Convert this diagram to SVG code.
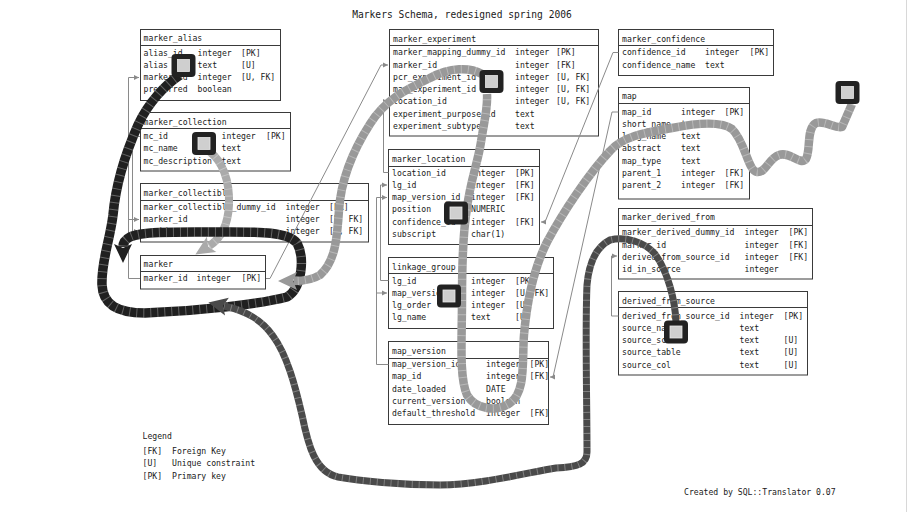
<svg xmlns="http://www.w3.org/2000/svg" width="922" height="512" viewBox="0 0 922 512">
<style>
text{font-family:"DejaVu Sans Mono","Liberation Mono",monospace;font-size:8.15px;fill:#1a1a1a}
.title{font-size:9.6px}
.box{fill:#fff;stroke:#3a3a3a;stroke-width:1}
.sep{stroke:#3a3a3a;stroke-width:1}
.conn{fill:none;stroke:#8a8a8a;stroke-width:1}
.s{fill:none;stroke-linecap:butt;stroke-linejoin:round}
.tick{fill:none;stroke:#ffffff;stroke-opacity:0.3;stroke-dasharray:1 6;stroke-linecap:butt}
.sqo{fill:#222}
.sqi{fill:#cfcfcf;stroke:#e8e8e8;stroke-width:0.8}
</style>
<defs>
<marker id="fk" markerUnits="userSpaceOnUse" markerWidth="8" markerHeight="8" refX="4" refY="0" viewBox="-4 -4 8 8" orient="auto" overflow="visible">
<path d="M-1,-2.5 L4,0 L-1,2.5 Z" fill="#8a8a8a"/>
</marker>
<marker id="aBlack" markerUnits="userSpaceOnUse" markerWidth="24" markerHeight="24" refX="0" refY="0" viewBox="-6 -12 24 24" orient="auto" overflow="visible">
<path d="M16,0 L-3,-9 L1,0 L-3,9 Z" fill="#202020"/>
</marker>
<marker id="aLight" markerUnits="userSpaceOnUse" markerWidth="24" markerHeight="24" refX="0" refY="0" viewBox="-6 -12 24 24" orient="auto" overflow="visible">
<path d="M16,0 L-3,-9 L1,0 L-3,9 Z" fill="#aaaaaa"/>
</marker>
<marker id="aGray" markerUnits="userSpaceOnUse" markerWidth="24" markerHeight="24" refX="0" refY="0" viewBox="-6 -12 24 24" orient="auto" overflow="visible">
<path d="M16,0 L-3,-9 L1,0 L-3,9 Z" fill="#999999"/>
</marker>
<marker id="aDark" markerUnits="userSpaceOnUse" markerWidth="24" markerHeight="24" refX="0" refY="0" viewBox="-6 -12 24 24" orient="auto" overflow="visible">
<path d="M16,0 L-3,-9 L1,0 L-3,9 Z" fill="#4a4a4a"/>
</marker>
</defs>
<rect x="0" y="0" width="922" height="512" fill="#fff"/>
<line x1="906.5" y1="0" x2="906.5" y2="512" stroke="#d8d8d8" stroke-width="1"/>
<text class="title" x="462" y="17.5" text-anchor="middle">Markers Schema, redesigned spring 2006</text>

<g id="marker_alias">
<rect class="box" x="140.5" y="29.5" width="140" height="71"/>
<line class="sep" x1="140.5" y1="45.5" x2="280.5" y2="45.5"/>
<text x="143.5" y="41.3">marker_alias</text>
<text x="143.5" y="55.7">alias_id</text><text x="197.5" y="55.7">integer</text><text x="241" y="55.7">[PK]</text>
<text x="143.5" y="67.95">alias</text><text x="197.5" y="67.95">text</text><text x="241" y="67.95">[U]</text>
<text x="143.5" y="80.2">marker_id</text><text x="197.5" y="80.2">integer</text><text x="241" y="80.2">[U, FK]</text>
<text x="143.5" y="92.45">preferred</text><text x="197.5" y="92.45">boolean</text>
</g>

<g id="marker_collection">
<rect class="box" x="140.5" y="112.5" width="150" height="58.5"/>
<line class="sep" x1="140.5" y1="128.5" x2="290.5" y2="128.5"/>
<text x="143.5" y="124.7">marker_collection</text>
<text x="143.5" y="139">mc_id</text><text x="221.5" y="139">integer</text><text x="266" y="139">[PK]</text>
<text x="143.5" y="151.25">mc_name</text><text x="221.5" y="151.25">text</text>
<text x="143.5" y="163.5">mc_description</text><text x="221.5" y="163.5">text</text>
</g>

<g id="marker_collectible">
<rect class="box" x="140.5" y="183.5" width="228" height="58.5"/>
<line class="sep" x1="140.5" y1="200.5" x2="368.5" y2="200.5"/>
<text x="143.5" y="196.3">marker_collectible</text>
<text x="143.5" y="209.7">marker_collectible_dummy_id</text><text x="285.5" y="209.7">integer</text><text x="329" y="209.7">[PK]</text>
<text x="143.5" y="221.95">marker_id</text><text x="285.5" y="221.95">integer</text><text x="329" y="221.95">[U, FK]</text>
<text x="143.5" y="234.2">mc_id</text><text x="285.5" y="234.2">integer</text><text x="329" y="234.2">[U, FK]</text>
</g>

<g id="marker">
<rect class="box" x="140.5" y="255.5" width="125" height="33.5"/>
<line class="sep" x1="140.5" y1="271.5" x2="265.5" y2="271.5"/>
<text x="143.5" y="267.3">marker</text>
<text x="143.5" y="281.3">marker_id</text><text x="196.5" y="281.3">integer</text><text x="241.5" y="281.3">[PK]</text>
</g>

<g id="marker_experiment">
<rect class="box" x="389.5" y="29.5" width="209" height="106.5"/>
<line class="sep" x1="389.5" y1="45.5" x2="598.5" y2="45.5"/>
<text x="393" y="42">marker_experiment</text>
<text x="393" y="55.3">marker_mapping_dummy_id</text><text x="515" y="55.3">integer</text><text x="556" y="55.3">[PK]</text>
<text x="393" y="67.55">marker_id</text><text x="515" y="67.55">integer</text><text x="556" y="67.55">[FK]</text>
<text x="393" y="79.8">pcr_experiment_id</text><text x="515" y="79.8">integer</text><text x="556" y="79.8">[U, FK]</text>
<text x="393" y="92.05">map_experiment_id</text><text x="515" y="92.05">integer</text><text x="556" y="92.05">[U, FK]</text>
<text x="393" y="104.3">location_id</text><text x="515" y="104.3">integer</text><text x="556" y="104.3">[U, FK]</text>
<text x="393" y="116.55">experiment_purpose_id</text><text x="515" y="116.55">text</text>
<text x="393" y="128.8">experiment_subtype</text><text x="515" y="128.8">text</text>
</g>

<g id="marker_location">
<rect class="box" x="388.5" y="149.5" width="151" height="95"/>
<line class="sep" x1="388.5" y1="166.5" x2="539.5" y2="166.5"/>
<text x="392" y="162">marker_location</text>
<text x="392" y="175.7">location_id</text><text x="471" y="175.7">integer</text><text x="515" y="175.7">[PK]</text>
<text x="392" y="187.95">lg_id</text><text x="471" y="187.95">integer</text><text x="515" y="187.95">[FK]</text>
<text x="392" y="200.2">map_version_id</text><text x="471" y="200.2">integer</text><text x="515" y="200.2">[FK]</text>
<text x="392" y="212.45">position</text><text x="471" y="212.45">NUMERIC</text>
<text x="392" y="224.7">confidence_id</text><text x="471" y="224.7">integer</text><text x="515" y="224.7">[FK]</text>
<text x="392" y="236.95">subscript</text><text x="471" y="236.95">char(1)</text>
</g>

<g id="linkage_group">
<rect class="box" x="388.5" y="257.5" width="165" height="71"/>
<line class="sep" x1="388.5" y1="273.5" x2="553.5" y2="273.5"/>
<text x="392" y="269.7">linkage_group</text>
<text x="392" y="283.7">lg_id</text><text x="471" y="283.7">integer</text><text x="515" y="283.7">[PK]</text>
<text x="392" y="295.95">map_version_id</text><text x="471" y="295.95">integer</text><text x="515" y="295.95">[U, FK]</text>
<text x="392" y="308.2">lg_order</text><text x="471" y="308.2">integer</text><text x="515" y="308.2">[U]</text>
<text x="392" y="320.45">lg_name</text><text x="471" y="320.45">text</text><text x="515" y="320.45">[U]</text>
</g>

<g id="map_version">
<rect class="box" x="388.5" y="341.5" width="160" height="83"/>
<line class="sep" x1="388.5" y1="358.5" x2="548.5" y2="358.5"/>
<text x="392" y="353.7">map_version</text>
<text x="392" y="367">map_version_id</text><text x="486" y="367">integer</text><text x="529.5" y="367">[PK]</text>
<text x="392" y="379.25">map_id</text><text x="486" y="379.25">integer</text><text x="529.5" y="379.25">[FK]</text>
<text x="392" y="391.5">date_loaded</text><text x="486" y="391.5">DATE</text>
<text x="392" y="403.75">current_version</text><text x="486" y="403.75">boolean</text>
<text x="392" y="416">default_threshold</text><text x="486" y="416">integer</text><text x="529.5" y="416">[FK]</text>
</g>

<g id="marker_confidence">
<rect class="box" x="618.5" y="29.5" width="155" height="46"/>
<line class="sep" x1="618.5" y1="45.5" x2="773.5" y2="45.5"/>
<text x="622" y="42">marker_confidence</text>
<text x="622" y="55.3">confidence_id</text><text x="705" y="55.3">integer</text><text x="749.5" y="55.3">[PK]</text>
<text x="622" y="67.55">confidence_name</text><text x="705" y="67.55">text</text>
</g>

<g id="map">
<rect class="box" x="618.5" y="87.5" width="131" height="111.5"/>
<line class="sep" x1="618.5" y1="103.5" x2="749.5" y2="103.5"/>
<text x="622" y="99">map</text>
<text x="622" y="114.7">map_id</text><text x="681" y="114.7">integer</text><text x="724.5" y="114.7">[PK]</text>
<text x="622" y="126.95">short_name</text><text x="681" y="126.95">text</text>
<text x="622" y="139.2">long_name</text><text x="681" y="139.2">text</text>
<text x="622" y="151.45">abstract</text><text x="681" y="151.45">text</text>
<text x="622" y="163.7">map_type</text><text x="681" y="163.7">text</text>
<text x="622" y="175.95">parent_1</text><text x="681" y="175.95">integer</text><text x="724.5" y="175.95">[FK]</text>
<text x="622" y="188.2">parent_2</text><text x="681" y="188.2">integer</text><text x="724.5" y="188.2">[FK]</text>
</g>

<g id="marker_derived_from">
<rect class="box" x="618.5" y="208.5" width="194" height="70.5"/>
<line class="sep" x1="618.5" y1="225.5" x2="812.5" y2="225.5"/>
<text x="622" y="220.3">marker_derived_from</text>
<text x="622" y="235.3">marker_derived_dummy_id</text><text x="744.5" y="235.3">integer</text><text x="788.5" y="235.3">[PK]</text>
<text x="622" y="247.55">marker_id</text><text x="744.5" y="247.55">integer</text><text x="788.5" y="247.55">[FK]</text>
<text x="622" y="259.8">derived_from_source_id</text><text x="744.5" y="259.8">integer</text><text x="788.5" y="259.8">[FK]</text>
<text x="622" y="272.05">id_in_source</text><text x="744.5" y="272.05">integer</text>
</g>

<g id="derived_from_source">
<rect class="box" x="618.5" y="291.5" width="189" height="83.5"/>
<line class="sep" x1="618.5" y1="307.5" x2="807.5" y2="307.5"/>
<text x="622" y="303.7">derived_from_source</text>
<text x="622" y="318.7">derived_from_source_id</text><text x="739.5" y="318.7">integer</text><text x="783.5" y="318.7">[PK]</text>
<text x="622" y="330.95">source_name</text><text x="739.5" y="330.95">text</text>
<text x="622" y="343.2">source_schema</text><text x="739.5" y="343.2">text</text><text x="783.5" y="343.2">[U]</text>
<text x="622" y="355.45">source_table</text><text x="739.5" y="355.45">text</text><text x="783.5" y="355.45">[U]</text>
<text x="622" y="367.7">source_col</text><text x="739.5" y="367.7">text</text><text x="783.5" y="367.7">[U]</text>
</g>

<g id="connectors">
<path class="conn" d="M140,278.5 H128.5 V77.5 H139" marker-end="url(#fk)"/>
<path class="conn" d="M128.5,219.5 H139" marker-end="url(#fk)"/>
<path class="conn" d="M140,136.5 H132.5 V231.5 H139" marker-end="url(#fk)"/>
<path class="conn" d="M266,278.5 H270 L381,65 H388" marker-end="url(#fk)"/>
<path class="conn" d="M388.5,172.5 H383.5 V101.5 H388" marker-end="url(#fk)"/>
<path class="conn" d="M388.5,280.5 H380.5 V185 H387" marker-end="url(#fk)"/>
<path class="conn" d="M388.5,364.5 H376.5 V197.5 H387" marker-end="url(#fk)"/>
<path class="conn" d="M376.5,293 H387" marker-end="url(#fk)"/>
<path class="conn" d="M618.5,52.5 H613 L545,222 H541" marker-end="url(#fk)"/>
<path class="conn" d="M618.5,112 H612 L553,377 H550" marker-end="url(#fk)"/>
<path class="conn" d="M618.5,316 H611.5 V256 H617" marker-end="url(#fk)"/>
</g>

<g id="legend">
<text x="142.5" y="438.7">Legend</text>
<text x="142.5" y="454">[FK]</text><text x="172" y="454">Foreign Key</text>
<text x="142.5" y="466.3">[U]</text><text x="172" y="466.3">Unique constraint</text>
<text x="142.5" y="478.7">[PK]</text><text x="172" y="478.7">Primary key</text>
</g>
<text x="684" y="495.3">Created by SQL::Translator 0.07</text>

<g id="scribbles">
<path class="s" stroke="#999999" stroke-width="8.5" d="M852,104 L842,127 C835,129 825,120 816,123 C806,128 811,150 806,159 C800,166 790,151 779,155 C768,159 766,173 757,172 C748,171 745,141 732,129 C720,120 692,124 672,128 C650,132 624,135 610,151 C590,172 563,212 547,242 C535,266 527,300 524,335 C522,362 526,392 510,403 C497,412 476,410 467,395 C459,376 462,340 462,300 C462,262 463,232 467,208 C470,182 478,162 481,142 C484,122 488,108 487,94"/>
<path class="tick" stroke-width="8.5" d="M852,104 L842,127 C835,129 825,120 816,123 C806,128 811,150 806,159 C800,166 790,151 779,155 C768,159 766,173 757,172 C748,171 745,141 732,129 C720,120 692,124 672,128 C650,132 624,135 610,151 C590,172 563,212 547,242 C535,266 527,300 524,335 C522,362 526,392 510,403 C497,412 476,410 467,395 C459,376 462,340 462,300 C462,262 463,232 467,208 C470,182 478,162 481,142 C484,122 488,108 487,94"/>

<path class="s" stroke="#aaaaaa" stroke-width="8" marker-end="url(#aLight)" d="M210,152 C222,161 230,180 229,205 C228,225 222,238 209,246"/>
<path class="tick" stroke-width="8" d="M210,152 C222,161 230,180 229,205 C228,225 222,238 209,246"/>

<path class="s" stroke="#202020" stroke-width="9.5" marker-end="url(#aBlack)" d="M180,75 C165,85 148,103 138,125 C126,152 116,182 113,215 C110,240 101,262 102,285 C103,305 118,313 145,313 C200,311 260,304 287,297 C302,288 305,258 297,243 C287,231 255,232 220,232 C180,232 142,231 130,237 C124,240 123,243 123,247"/>
<path class="tick" stroke-width="9.5" d="M180,75 C165,85 148,103 138,125 C126,152 116,182 113,215 C110,240 101,262 102,285 C103,305 118,313 145,313 C200,311 260,304 287,297 C302,288 305,258 297,243 C287,231 255,232 220,232 C180,232 142,231 130,237 C124,240 123,243 123,247"/>

<path class="s" stroke="#999999" stroke-width="8.5" marker-end="url(#aGray)" d="M482,74 C470,67 450,67 430,78 C405,90 385,100 370,124 C352,152 341,180 339,210 C337,240 335,262 320,275 C312,280 302,281 294,281"/>
<path class="tick" stroke-width="8.5" d="M482,74 C470,67 450,67 430,78 C405,90 385,100 370,124 C352,152 341,180 339,210 C337,240 335,262 320,275 C312,280 302,281 294,281"/>

<path class="s" stroke="#4a4a4a" stroke-width="7" marker-end="url(#aDark)" d="M676,322 C675,300 668,272 655,254 C645,242 625,236 610,240 C596,247 589,262 587,285 C585,330 587,400 587,452 C587,464 578,467 556,468 C530,472 480,485 440,485 C400,485 360,481 338,477 C315,472 308,445 302,415 C295,385 287,355 273,336 C262,320 247,311 224,306"/>
<path class="tick" stroke-width="7" d="M676,322 C675,300 668,272 655,254 C645,242 625,236 610,240 C596,247 589,262 587,285 C585,330 587,400 587,452 C587,464 578,467 556,468 C530,472 480,485 440,485 C400,485 360,481 338,477 C315,472 308,445 302,415 C295,385 287,355 273,336 C262,320 247,311 224,306"/>
</g>

<g id="squares">
<rect class="sqo" x="171.5" y="54" width="24" height="23" rx="4"/><rect class="sqi" x="177.5" y="59.5" width="12" height="12"/>
<rect class="sqo" x="192" y="132" width="24" height="23" rx="4"/><rect class="sqi" x="198" y="137.5" width="12" height="12"/>
<rect class="sqo" x="479.5" y="70" width="24" height="23" rx="4"/><rect class="sqi" x="485.5" y="75.5" width="12" height="12"/>
<rect class="sqo" x="444" y="201.5" width="24" height="23" rx="4"/><rect class="sqi" x="450" y="207" width="12" height="12"/>
<rect class="sqo" x="437" y="284.5" width="24" height="23" rx="4"/><rect class="sqi" x="443" y="290" width="12" height="12"/>
<rect class="sqo" x="835.5" y="81" width="24" height="23" rx="4"/><rect class="sqi" x="841.5" y="86.5" width="12" height="12"/>
<rect class="sqo" x="664" y="320.5" width="24" height="23" rx="4"/><rect class="sqi" x="670" y="326" width="12" height="12"/>
</g>
</svg>
